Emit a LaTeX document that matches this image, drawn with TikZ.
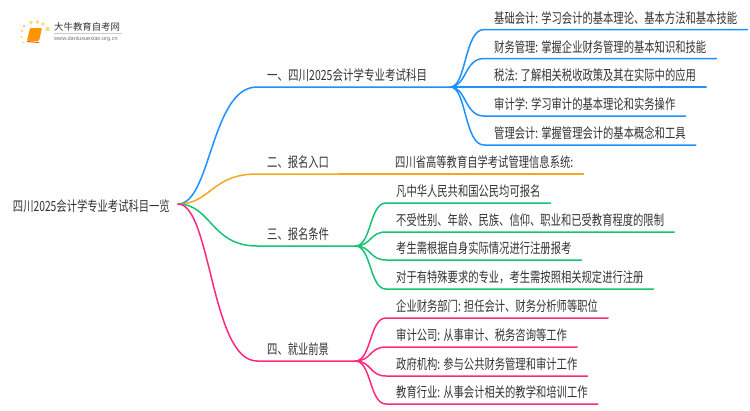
\documentclass[tikz,border=0pt]{standalone}
\usepackage{fontspec}
\newfontfamily\cjk[FakeStretch=0.736]{Noto Sans CJK SC}
\newfontfamily\cjkwide[FakeStretch=0.75]{Noto Sans CJK SC}
\newfontfamily\cjklogo{Noto Sans CJK SC}
\setsansfont{Liberation Sans}
\definecolor{cblue}{HTML}{1E90FF}
\definecolor{corange}{HTML}{F5A81F}
\definecolor{cgreen}{HTML}{14C472}
\definecolor{cpink}{HTML}{FF2A7F}
\definecolor{ctext}{HTML}{333333}
\definecolor{dotc}{HTML}{FCD77A}
\tikzset{
  x=1pt,y=-1pt,
  lbl/.style={font=\cjk\fontsize{14}{16}\selectfont,text=ctext,inner xsep=10pt,inner ysep=0pt,text height=13pt,text depth=6.2pt,anchor=south west},
  widelbl/.style={font=\cjkwide\fontsize{14}{16}\selectfont},
  rootn/.style={font=\cjk\fontsize{14}{16}\selectfont,text=ctext,inner xsep=8pt,inner ysep=0pt,text height=15pt,text depth=0.4pt,anchor=east},
  conn/.style={line width=1.5pt,line cap=round},
}
\usetikzlibrary{calc}
\newcommand{\sbranch}[3]{% colour, from, to
  \draw[conn,#1] (#2) .. controls ($(#2)+(33,0)$) and ($(#2 |- #3.south west)+(33,0)$) .. (#3.south west) -- (#3.south east);}
\newcommand{\lbranch}[3]{%
  \draw[conn,#1] (#2) .. controls ($(#2)+(16,0)$) and ($(#2 |- #3.south west)+(14,0)$) .. (#3.south west) -- (#3.south east);}
\begin{document}
\begin{tikzpicture}
\useasboundingbox (0,0) rectangle (750,410);
\fill[white] (0,0) rectangle (750,410);
% logo
\foreach \i/\p/\r in {a/{24,26}/1.7,b/{31,22.5}/1.8,c/{37.5,22}/1.9,d/{43,24}/1.8,e/{47.5,29}/2.2,f/{22,31}/1.3,g/{21.5,37}/1.1,h/{23,42.5}/0.9}
  \fill[dotc] (\p) circle (\r);
\fill[orange!85!yellow,rounded corners=1pt] (30,28) -- (42,28) -- (39,41) -- (27,41) -- cycle;
\draw[orange!70!red,line width=1pt] (27,41.5) -- (39,42.5);
\node[font=\cjklogo\fontsize{9.4}{10}\selectfont,text=ctext,inner sep=0pt,anchor=west] (logot) at (54,27) {大牛教育自考网};
\draw[black!20,line width=0.5pt] (54,33.5) -- (122,33.5);
\node[font=\sffamily\fontsize{5.6}{6}\selectfont,text=black!55,inner sep=0pt,anchor=west] (logou) at (54,39) {www.daniuxuexiao.org.cn};
% nodes
\node[rootn] (root) at (178,204) {四川2025会计学专业考试科目一览};
\node[lbl,widelbl,text width=173pt] (b1) at (257,87) {一、四川2025会计学专业考试科目};
\node[lbl] (b2) at (257,174) {二、报名入口};
\node[lbl,text width=78pt] (b3) at (257,246) {三、报名条件};
\node[lbl,text width=78pt] (b4) at (257,361) {四、就业前景};
\node[lbl] (a1) at (484,29.5) {基础会计: 学习会计的基本理论、基本方法和基本技能};
\node[lbl] (a2) at (484,58.5) {财务管理: 掌握企业财务管理的基本知识和技能};
\node[lbl] (a3) at (484,87) {税法: 了解相关税收政策及其在实际中的应用};
\node[lbl] (a4) at (484,116) {审计学: 学习审计的基本理论和实务操作};
\node[lbl] (a5) at (484,145) {管理会计: 掌握管理会计的基本概念和工具};
\node[lbl] (c1) at (385,174) {四川省高等教育自学考试管理信息系统:};
\node[lbl] (d1) at (386,203) {凡中华人民共和国公民均可报名};
\node[lbl] (d2) at (386,232) {不受性别、年龄、民族、信仰、职业和已受教育程度的限制};
\node[lbl] (d3) at (386,260) {考生需根据自身实际情况进行注册报考};
\node[lbl] (d4) at (386,289) {对于有特殊要求的专业，考生需按照相关规定进行注册};
\node[lbl] (e1) at (386,318) {企业财务部门: 担任会计、财务分析师等职位};
\node[lbl] (e2) at (386,347) {审计公司: 从事审计、税务咨询等工作};
\node[lbl] (e3) at (386,376) {政府机构: 参与公共财务管理和审计工作};
\node[lbl] (e4) at (386,404) {教育行业: 从事会计相关的教学和培训工作};
% connectors
\sbranch{cblue}{root.east}{b1}
\sbranch{corange}{root.east}{b2}
\sbranch{cgreen}{root.east}{b3}
\sbranch{cpink}{root.east}{b4}
\draw[conn,corange] (b2.south east) -- (c1.south west) -- (c1.south east);
\foreach \n in {a1,a2,a3,a4,a5}{\lbranch{cblue}{b1.south east}{\n}}
\foreach \n in {d1,d2,d3,d4}{\lbranch{cgreen}{b3.south east}{\n}}
\foreach \n in {e1,e2,e3,e4}{\lbranch{cpink}{b4.south east}{\n}}
\end{tikzpicture}
\end{document}
